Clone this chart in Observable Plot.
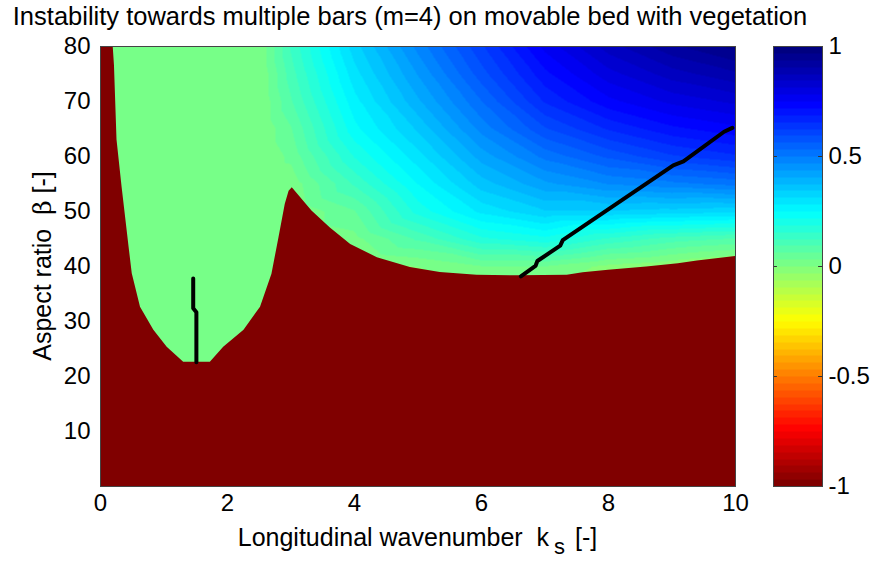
<!DOCTYPE html>
<html>
<head>
<meta charset="utf-8">
<script src="https://cdn.jsdelivr.net/npm/d3@7"></script>
<script src="https://cdn.jsdelivr.net/npm/@observablehq/plot@0.6"></script>
<style>
  body { margin: 0; background: #fff; font-family: "Liberation Sans", Arial, sans-serif; }
  #wrap { position: relative; width: 874px; height: 561px; overflow: hidden; }
  #wrap svg { position: absolute; top: 0; }
  .title { position: absolute; left: 0; width: 820px; top: 1px; text-align: center; font-size: 25.5px; line-height: 30px; color: #000; white-space: nowrap; }
  .xlabel { position: absolute; left: 100px; width: 635px; top: 522px; text-align: center; font-size: 25px; line-height: 30px; white-space: nowrap; }
  .xlabel sub { font-size: 22px; position: relative; top: 8px; vertical-align: baseline; margin-left: 5px; margin-right: 3px; }
  .ylabel { position: absolute; left: 42px; top: 266px; transform: translate(-50%, -50%) rotate(-90deg); font-size: 25px; line-height: 30px; white-space: nowrap; }
  .greek { font-family: "DejaVu Serif", "Liberation Serif", serif; }
</style>
</head>
<body>
<div id="wrap">
  <div class="title">Instability towards multiple bars (m=4) on movable bed with vegetation</div>
  <div class="ylabel">Aspect ratio&nbsp; <span class="greek">β</span> [-]</div>
  <div class="xlabel">Longitudinal wavenumber&nbsp; k<sub>s</sub> [-]</div>
</div>
<script>
// Sampled growth-rate field (normalised to [-1, 1]) on a k_s × β grid.
const ks = [0, 2.5, 3, 4, 5, 6, 7, 8, 9, 10];
const betas = [0, 20, 35, 40, 45, 50, 55, 60, 65, 70, 75, 80];
const growth = [
  [0, 0, 0, 0, 0, 0, 0, 0, 0, 0],
  [0, 0, 0, 0, 0, 0, 0, 0, 0, 0],
  [0, 0, 0, 0, -0.03, 0, 0, -0.04, -0.06, -0.09],
  [0, 0, 0, -0.02, 0.0, 0.03, 0.03, -0.01, -0.03, -0.06],
  [0, 0, 0, 0.02, 0.10, 0.18, 0.21, 0.15, 0.11, 0.09],
  [0, 0, 0, 0.06, 0.20, 0.29, 0.34, 0.34, 0.33, 0.32],
  [0, 0, 0.01, 0.13, 0.25, 0.36, 0.43, 0.47, 0.49, 0.51],
  [0, 0, 0.04, 0.19, 0.30, 0.42, 0.51, 0.57, 0.62, 0.65],
  [0, 0, 0.06, 0.24, 0.35, 0.48, 0.59, 0.66, 0.71, 0.74],
  [0, 0, 0.09, 0.27, 0.40, 0.53, 0.66, 0.74, 0.79, 0.82],
  [0, 0, 0.11, 0.30, 0.44, 0.58, 0.71, 0.80, 0.86, 0.90],
  [0, 0, 0.13, 0.33, 0.48, 0.62, 0.76, 0.86, 0.93, 0.98]
];

// Neutral-stability curve: bed is stable (value -1) below this β for each k_s.
const stableK = [0, 0.2, 0.22, 0.26, 0.34, 0.45, 0.5, 0.63, 0.84, 1.05, 1.31, 1.73, 1.94, 2.26, 2.52, 2.70, 2.81, 2.91, 2.97, 3.02, 3.33, 3.62, 3.94, 4.36, 4.88, 5.35, 5.93, 6.6, 7.35, 7.6, 8.0, 8.6, 9.1, 9.4, 9.7, 10];
const stableBeta = [80, 80, 76.5, 63, 54.4, 43.5, 38.7, 32.6, 28.4, 25.3, 22.6, 22.6, 25.3, 28.4, 32.6, 38.6, 45.2, 51.3, 53.7, 54.3, 50.1, 47.0, 44.0, 41.6, 39.8, 38.9, 38.4, 38.3, 38.4, 38.85, 39.3, 39.9, 40.5, 41.0, 41.4, 41.8];

// Wavenumber of maximum growth, two branches.
const peakLowK = [1.46, 1.46, 1.51, 1.51];
const peakLowBeta = [37.8, 32.4, 31.7, 22.6];
const peakHighK = [6.62, 6.85, 6.88, 7.24, 7.28, 9.02, 9.18, 9.82, 9.95];
const peakHighBeta = [38.2, 40.1, 41.0, 43.8, 44.8, 58.4, 59.1, 64.5, 65.2];

const xTicks = [0, 2, 4, 6, 8, 10];
const yTicks = [10, 20, 30, 40, 50, 60, 70, 80];
const barTicks = [-1, -0.5, 0, 0.5, 1];

// Reversed 64-level jet colour map: -1 dark red, +1 dark blue.
function jet(t) {
  const c = v => Math.max(0, Math.min(1, v));
  const r = c(1.5 - Math.abs(4 * t - 3));
  const g = c(1.5 - Math.abs(4 * t - 2));
  const b = c(1.5 - Math.abs(4 * t - 1));
  return `rgb(${Math.round(r * 255)},${Math.round(g * 255)},${Math.round(b * 255)})`;
}
const nLevels = 64;
const jetReversed = t => {
  const i = Math.max(0, Math.min(nLevels - 1, Math.floor(t * nLevels)));
  return jet(1 - i / (nLevels - 1));
};
const colorScale = { type: "linear", domain: [-1, 1], interpolate: jetReversed };

const field = betas.flatMap((b, i) => ks.map((k, j) => ({ k, beta: b, v: growth[i][j] })));
const stable = stableK.map((k, i) => ({ k, beta: stableBeta[i] }));
const peakLow = peakLowK.map((k, i) => ({ k, beta: peakLowBeta[i] }));
const peakHigh = peakHighK.map((k, i) => ({ k, beta: peakHighBeta[i] }));

const font = { fontFamily: "Liberation Sans, Arial, sans-serif", fontSize: "24px", color: "#000", background: "transparent" };

const main = Plot.plot({
  width: 874,
  height: 561,
  marginLeft: 100,
  marginRight: 139,
  marginTop: 46,
  marginBottom: 75,
  style: font,
  x: { domain: [0, 10], ticks: xTicks, tickSize: 0, tickPadding: 7, label: null },
  y: { domain: [0, 80], ticks: yTicks, tickSize: 0, tickPadding: 10, label: null },
  color: colorScale,
  marks: [
    Plot.raster(field, { x: "k", y: "beta", fill: "v", interpolate: "barycentric", pixelSize: 1 }),
    Plot.areaY(stable, { x: "k", y1: 0, y2: "beta", fill: () => -1 }),
    Plot.line(peakLow, { x: "k", y: "beta", stroke: "#000", strokeWidth: 4, strokeLinejoin: "round" }),
    Plot.line(peakHigh, { x: "k", y: "beta", stroke: "#000", strokeWidth: 4, strokeLinejoin: "round", strokeLinecap: "round" }),
    Plot.frame({ stroke: "#444", strokeWidth: 1 })
  ]
});

const bar = Plot.plot({
  width: 114,
  height: 561,
  marginLeft: 13,
  marginRight: 52,
  marginTop: 46,
  marginBottom: 75,
  style: font,
  x: { domain: [0, 1], axis: null },
  y: { domain: [-1, 1], ticks: barTicks, tickFormat: d => String(d), axis: "right", tickSize: 0, tickPadding: 6, label: null },
  color: colorScale,
  marks: [
    Plot.raster({ fill: (x, y) => y, x1: 0, x2: 1, y1: -1, y2: 1, pixelSize: 1 }),
    Plot.ruleY(barTicks.slice(1, -1), { x1: 0, x2: 0.08, stroke: "#333" }),
    Plot.ruleY(barTicks.slice(1, -1), { x1: 0.92, x2: 1, stroke: "#333" }),
    Plot.frame({ stroke: "#444", strokeWidth: 1 })
  ]
});
bar.style.left = "760px";

const wrap = document.getElementById("wrap");
wrap.prepend(bar);
wrap.prepend(main);
</script>
</body>
</html>
